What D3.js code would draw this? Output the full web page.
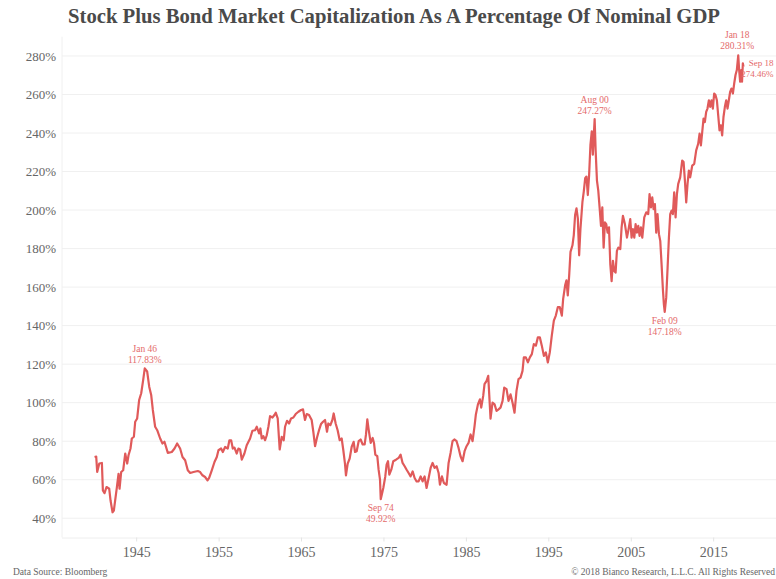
<!DOCTYPE html>
<html>
<head>
<meta charset="utf-8">
<script src="https://cdn.jsdelivr.net/npm/d3@7"></script>
<style>
  html, body { margin: 0; padding: 0; background: #fff; }
  svg text { font-family: "Liberation Serif", "DejaVu Serif", serif; }
</style>
</head>
<body>
<svg id="chart" width="776" height="579"></svg>
<script>
/*
 * Stock plus bond market cap as a percentage of nominal GDP, 1940 - 2018.
 * Values (decimal year, percent).
 */

var years = [
  1939.95, 1940.15, 1940.27, 1940.52, 1940.84, 1940.96, 1941.16, 1941.40, 1941.73, 1941.89,
  1942.13, 1942.29, 1942.66, 1942.86, 1942.98, 1943.18, 1943.42, 1943.67, 1943.91, 1944.07,
  1944.31, 1944.47, 1944.72, 1944.88, 1945.12, 1945.36, 1945.61, 1945.85, 1946.04, 1946.33,
  1946.58, 1946.82, 1947.02, 1947.30, 1947.55, 1947.91, 1948.19, 1948.43, 1948.84, 1949.32,
  1949.65, 1949.97, 1950.33, 1950.62, 1950.94, 1951.26, 1951.55, 1951.95, 1952.48, 1952.76,
  1953.04, 1953.36, 1953.65, 1953.85, 1954.17, 1954.50, 1954.78, 1954.98, 1955.30, 1955.51,
  1955.79, 1956.11, 1956.31, 1956.52, 1956.72, 1956.92, 1957.20, 1957.40, 1957.61, 1957.81,
  1958.13, 1958.41, 1958.82, 1959.10, 1959.42, 1959.63, 1959.91, 1960.07, 1960.23, 1960.43,
  1960.64, 1960.84, 1961.04, 1961.24, 1961.53, 1961.77, 1961.93, 1962.17, 1962.41, 1962.66,
  1962.90, 1963.06, 1963.30, 1963.55, 1963.79, 1964.07, 1964.35, 1964.68, 1965.00, 1965.24,
  1965.48, 1965.69, 1965.97, 1966.29, 1966.49, 1966.70, 1966.94, 1967.18, 1967.42, 1967.67,
  1967.91, 1968.15, 1968.31, 1968.56, 1968.80, 1968.96, 1969.20, 1969.44, 1969.69, 1969.93,
  1970.13, 1970.33, 1970.45, 1970.66, 1970.90, 1971.14, 1971.38, 1971.55, 1971.75, 1971.99,
  1972.23, 1972.48, 1972.72, 1972.88, 1973.04, 1973.20, 1973.45, 1973.69, 1973.85, 1974.01,
  1974.25, 1974.41, 1974.58, 1974.67, 1974.98, 1975.22, 1975.38, 1975.55, 1975.71, 1975.95,
  1976.19, 1976.52, 1976.84, 1977.08, 1977.32, 1977.57, 1977.81, 1978.05, 1978.29, 1978.54,
  1978.78, 1979.02, 1979.26, 1979.51, 1979.75, 1979.99, 1980.23, 1980.48, 1980.72, 1980.96,
  1981.20, 1981.45, 1981.69, 1981.85, 1982.09, 1982.33, 1982.66, 1982.90, 1983.14, 1983.38,
  1983.63, 1983.87, 1984.11, 1984.35, 1984.60, 1984.84, 1985.08, 1985.32, 1985.57, 1985.81,
  1986.05, 1986.21, 1986.46, 1986.70, 1986.86, 1987.10, 1987.26, 1987.51, 1987.71, 1987.83,
  1987.99, 1988.23, 1988.48, 1988.72, 1988.96, 1989.20, 1989.45, 1989.65, 1989.93, 1990.17,
  1990.42, 1990.66, 1990.90, 1991.14, 1991.38, 1991.63, 1991.87, 1992.03, 1992.27, 1992.52,
  1992.76, 1993.00, 1993.24, 1993.49, 1993.73, 1993.97, 1994.21, 1994.46, 1994.70, 1994.94,
  1995.18, 1995.42, 1995.67, 1995.91, 1996.15, 1996.39, 1996.64, 1996.80, 1997.04, 1997.20,
  1997.36, 1997.53, 1997.69, 1997.93, 1998.09, 1998.25, 1998.42, 1998.58, 1998.74, 1998.90,
  1999.14, 1999.30, 1999.47, 1999.63, 1999.79, 1999.95, 2000.11, 2000.27, 2000.40, 2000.50,
  2000.62, 2000.74, 2000.90, 2001.06, 2001.22, 2001.39, 2001.55, 2001.71, 2001.87, 2002.03,
  2002.19, 2002.36, 2002.52, 2002.68, 2002.84, 2003.00, 2003.16, 2003.32, 2003.49, 2003.73,
  2003.89, 2004.05, 2004.29, 2004.54, 2004.70, 2004.94, 2005.10, 2005.26, 2005.43, 2005.59,
  2005.75, 2005.91, 2006.07, 2006.23, 2006.40, 2006.64, 2006.88, 2007.12, 2007.28, 2007.45,
  2007.61, 2007.77, 2007.93, 2008.09, 2008.25, 2008.42, 2008.58, 2008.74, 2008.90, 2009.02,
  2009.12, 2009.30, 2009.47, 2009.63, 2009.79, 2009.95, 2010.11, 2010.27, 2010.44, 2010.60,
  2010.76, 2011.00, 2011.24, 2011.41, 2011.57, 2011.73, 2011.89, 2012.05, 2012.21, 2012.46,
  2012.70, 2012.94, 2013.18, 2013.35, 2013.51, 2013.67, 2013.83, 2013.99, 2014.15, 2014.31,
  2014.48, 2014.64, 2014.80, 2014.96, 2015.12, 2015.28, 2015.45, 2015.61, 2015.77, 2015.93,
  2016.09, 2016.25, 2016.42, 2016.58, 2016.74, 2016.90, 2017.06, 2017.22, 2017.39, 2017.55,
  2017.71, 2017.87, 2018.04, 2018.15, 2018.27, 2018.40, 2018.50, 2018.60, 2018.67
];

var capPct = [
  71.8, 72.0, 64.0, 68.4, 68.7, 54.4, 53.0, 56.2, 55.3, 49.2,
  43.1, 44.0, 56.2, 63.1, 55.3, 64.0, 64.9, 73.6, 68.4, 72.7,
  76.2, 81.4, 82.3, 90.1, 91.8, 101.4, 104.9, 111.8, 117.83, 116.2,
  108.3, 104.0, 96.2, 87.5, 85.7, 81.4, 78.8, 79.7, 73.9, 74.4,
  76.2, 78.8, 76.2, 71.8, 70.1, 64.9, 63.5, 64.0, 64.5, 64.0,
  62.3, 61.4, 59.7, 61.0, 64.9, 69.2, 71.8, 75.3, 76.2, 74.4,
  77.0, 76.2, 80.5, 80.5, 76.2, 76.7, 73.6, 76.2, 75.7, 70.4,
  73.6, 77.9, 81.4, 85.4, 85.7, 87.5, 84.0, 86.6, 81.4, 82.6,
  80.5, 83.1, 87.5, 93.0, 92.3, 93.6, 94.8, 91.8, 75.7, 82.3,
  80.5, 87.5, 90.6, 89.2, 91.8, 92.3, 94.1, 95.3, 96.2, 96.5,
  91.0, 94.1, 93.6, 91.0, 84.9, 77.4, 81.9, 85.7, 88.9, 90.1,
  91.0, 84.9, 89.2, 88.3, 91.0, 94.4, 89.2, 85.7, 80.5, 81.4,
  75.3, 68.4, 62.3, 68.4, 71.0, 77.0, 79.7, 74.4, 74.8, 80.0,
  80.9, 78.3, 78.3, 83.5, 91.3, 86.1, 79.1, 81.7, 79.1, 73.0,
  72.2, 65.2, 60.0, 49.92, 55.7, 61.7, 67.8, 69.6, 62.6, 65.2,
  69.6, 70.4, 71.3, 73.0, 68.7, 67.0, 65.2, 63.5, 61.7, 64.3,
  60.9, 59.1, 59.1, 61.7, 59.1, 61.7, 55.7, 60.9, 66.1, 68.7,
  66.1, 67.0, 63.5, 57.4, 61.7, 58.3, 57.4, 68.7, 73.9, 80.0,
  80.9, 80.0, 76.5, 72.2, 69.6, 74.8, 77.4, 79.1, 83.5, 80.0,
  87.8, 93.9, 99.1, 101.7, 97.4, 103.5, 109.6, 111.3, 113.9, 104.3,
  91.7, 100.0, 99.1, 95.7, 96.5, 97.4, 100.9, 107.8, 107.0, 100.9,
  104.3, 100.0, 94.8, 106.1, 112.2, 113.0, 116.5, 123.5, 123.5, 120.9,
  123.5, 125.2, 130.4, 129.6, 133.9, 133.9, 129.6, 124.3, 126.1, 120.9,
  126.1, 134.8, 142.6, 145.2, 149.6, 149.6, 145.2, 153.9, 160.9, 163.5,
  155.7, 166.1, 178.3, 181.7, 187.0, 197.4, 200.9, 195.7, 176.5, 190.4,
  204.3, 209.6, 216.5, 217.4, 207.8, 218.3, 233.9, 240.9, 228.7, 237.4,
  247.27, 231.0, 215.3, 210.1, 201.4, 191.8, 201.4, 180.5, 193.6, 192.7,
  188.3, 191.0, 171.8, 163.1, 173.6, 168.3, 167.5, 178.8, 180.5, 179.7,
  191.0, 197.0, 192.7, 185.7, 189.2, 195.3, 185.7, 190.1, 185.7, 192.7,
  188.3, 191.8, 186.6, 191.0, 185.7, 196.2, 198.8, 197.9, 208.3, 201.4,
  206.6, 200.5, 203.1, 188.3, 197.9, 187.5, 184.0, 171.8, 158.8, 151.0,
  147.18, 154.4, 170.1, 185.7, 197.9, 199.7, 197.9, 209.2, 196.2, 208.3,
  213.6, 217.0, 225.7, 224.9, 215.3, 204.0, 213.6, 220.5, 217.0, 223.1,
  224.0, 231.0, 234.4, 239.7, 233.6, 240.5, 247.5, 245.7, 251.0, 252.7,
  257.0, 253.6, 257.0, 252.7, 260.5, 259.7, 257.0, 249.2, 241.4, 244.0,
  238.8, 248.3, 253.6, 257.0, 252.7, 257.0, 261.4, 263.1, 260.5, 265.7,
  270.1, 272.7, 280.31, 272.7, 266.6, 272.7, 266.6, 276.2, 274.46
];

// Annotated extremes
var noteDates = ["Jan 46", "Sep 74", "Aug 00", "Feb 09", "Jan 18", "Sep 18"];
var noteYears = [1946.04, 1974.67, 2000.62, 2009.12, 2018.04, 2018.67];
var noteValues = [117.83, 49.92, 247.27, 147.18, 280.31, 274.46];

var xTicks = [1945, 1955, 1965, 1975, 1985, 1995, 2005, 2015];
var yTicks = [40, 60, 80, 100, 120, 140, 160, 180, 200, 220, 240, 260, 280];

var lineColor = "#e05a5a";
var noteColor = "#e46a6a";

var svg = d3.select("#chart");

var x = d3.scaleLinear().domain([1936, 2022.5]).range([62, 775]);
var y = d3.scaleLinear().domain([30, 290]).range([537.5, 36.7]);

// Title
svg.append("text")
  .attr("x", 394)
  .attr("y", 23)
  .attr("text-anchor", "middle")
  .attr("font-size", 20)
  .attr("font-weight", "bold")
  .attr("fill", "#4a4a4a")
  .attr("textLength", 652)
  .attr("lengthAdjust", "spacingAndGlyphs")
  .text("Stock Plus Bond Market Capitalization As A Percentage Of Nominal GDP");

// Gridlines
svg.append("g")
  .selectAll("line")
  .data(yTicks)
  .enter()
  .append("line")
    .attr("x1", x.range()[0])
    .attr("x2", 776)
    .attr("y1", function(d) { return y(d); })
    .attr("y2", function(d) { return y(d); })
    .attr("stroke", "#f0f0f0")
    .attr("stroke-width", 1);

svg.append("line")
  .attr("x1", x.range()[0]).attr("x2", x.range()[0])
  .attr("y1", y(290)).attr("y2", y(30))
  .attr("stroke", "#f0f0f0");

// Y Axis
var yAxis = svg.append("g")
  .attr("transform", "translate(" + x.range()[0] + ", 0)")
  .call(d3.axisLeft(y).tickValues(yTicks).tickSize(0).tickPadding(6)
    .tickFormat(function(d) { return d + "%"; }));
yAxis.select(".domain").remove();
yAxis.selectAll("text")
  .attr("font-family", "Liberation Serif, serif")
  .attr("font-size", 13)
  .attr("fill", "#666");

// X Axis
var xAxis = svg.append("g")
  .attr("transform", "translate(0, " + y(30) + ")")
  .call(d3.axisBottom(x).tickValues(xTicks).tickSize(4).tickPadding(6)
    .tickFormat(d3.format("d")));
xAxis.select(".domain")
  .attr("d", "M" + x.range()[0] + ",0.5H776")
  .attr("stroke", "#eeeeee");
xAxis.selectAll("line").attr("stroke", "#e4e4e4");
xAxis.selectAll("text")
  .attr("font-family", "Liberation Serif, serif")
  .attr("font-size", 14)
  .attr("fill", "#666");

// The series
var line = d3.line()
  .x(function(d) { return x(d[0]); })
  .y(function(d) { return y(d[1]); });

svg.append("path")
  .datum(d3.zip(years, capPct))
  .attr("fill", "none")
  .attr("stroke", lineColor)
  .attr("stroke-width", 2.2)
  .attr("stroke-linejoin", "round")
  .attr("d", line);

// Annotations: two separate lines each, dy relative to the point
var notes = d3.zip(noteDates, noteYears, noteValues);
var noteLayout = {
  "Jan 46": { anchor: "middle", dx: 0, dy: [-16, -5], size: 9.5 },
  "Sep 74": { anchor: "middle", dx: 0, dy: [12, 23], size: 9.5 },
  "Aug 00": { anchor: "middle", dx: 0, dy: [-16, -5], size: 9.5 },
  "Feb 09": { anchor: "middle", dx: 0, dy: [12, 23], size: 9.5 },
  "Jan 18": { anchor: "middle", dx: -1, dy: [-17, -6], size: 9.5 },
  "Sep 18": { anchor: "end", dx: 30, dy: [-1, 10], size: 9 }
};

var ng = svg.append("g");
notes.forEach(function(n) {
  var lay = noteLayout[n[0]];
  var px = Math.min(x(n[1]) + lay.dx, 775);
  var lines = [n[0], n[2].toFixed(2) + "%"];
  lines.forEach(function(s, i) {
    ng.append("text")
      .attr("x", px)
      .attr("y", y(n[2]) + lay.dy[i])
      .attr("text-anchor", lay.anchor)
      .attr("font-size", lay.size)
      .attr("fill", noteColor)
      .text(s);
  });
});

// Footer
svg.append("text")
  .attr("x", 13)
  .attr("y", 575)
  .attr("font-size", 9.5)
  .attr("fill", "#666")
  .text("Data Source: Bloomberg");

svg.append("text")
  .attr("x", 775)
  .attr("y", 575)
  .attr("text-anchor", "end")
  .attr("font-size", 9.5)
  .attr("fill", "#666")
  .text("\u00a9 2018 Bianco Research, L.L.C. All Rights Reserved");
</script>
</body>
</html>
